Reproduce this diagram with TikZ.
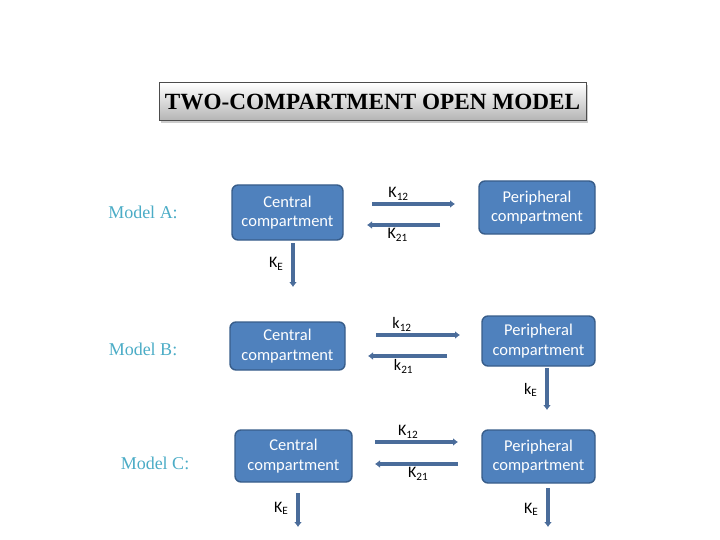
\documentclass[tikz,border=0pt]{standalone}
\usepackage{fontspec}
\setmainfont{Liberation Serif}
\newfontfamily\calibri{Carlito}
\usetikzlibrary{arrows.meta,shadows,positioning}
\definecolor{boxblue}{RGB}{79,129,189}
\definecolor{boxedge}{RGB}{56,93,138}
\definecolor{flowblue}{RGB}{74,108,154}
\definecolor{modelteal}{RGB}{75,172,198}

\begin{document}
\begin{tikzpicture}
    [x=1pt,y=-1pt,
    box/.style={draw=boxedge,line width=1.4pt,fill=boxblue,rounded corners=6pt,
        align=center,text=white,font=\calibri\fontsize{16.5}{19.5}\selectfont,inner sep=0pt},
    flow/.style={draw=flowblue,line width=3.2pt,-{Latex[length=5pt,width=8pt]}},
    klab/.style={font=\calibri\fontsize{16}{18}\selectfont,inner sep=2pt},
    model/.style={text=modelteal,font=\fontsize{18}{20}\selectfont}]

    \useasboundingbox (0,0) rectangle (720,540);

    % title
    \node[draw=black!70,line width=1pt,top color=white,bottom color=black!30,
        drop shadow={shadow xshift=2pt,shadow yshift=-2pt,opacity=0.4},
        minimum width=427pt,minimum height=38pt,font=\bfseries\fontsize{23.2}{25}\selectfont]
        (title) at (372.5,102) {TWO-COMPARTMENT OPEN MODEL};

    % model A
    \node[model] (ma) at (143,212) {Model A:};
    \node[box,minimum width=111pt,minimum height=55pt] (ca) at (287.5,212.5) {Central\\compartment};
    \node[box,minimum width=116pt,minimum height=53pt] (pa) at (537,207.5) {Peripheral\\compartment};
    \coordinate (a12s) at (372,204);
    \coordinate (a12e) at (455,204);
    \coordinate (a21s) at (440,225);
    \coordinate (a21e) at (367,225);
    \coordinate (aEs) at (293,243);
    \coordinate (aEe) at (293,287);
    \draw[flow] (a12s) -- (a12e) node[klab,above,pos=0.32] {K\textsubscript{12}};
    \draw[flow] (a21s) -- (a21e) node[klab,below,pos=0.58] {K\textsubscript{21}};
    \draw[flow] (aEs) -- (aEe) node[klab,left=6pt,pos=0.48] {K\textsubscript{E}};

    % model B
    \node[model] (mb) at (143,349) {Model B:};
    \node[box,minimum width=115pt,minimum height=48pt] (cb) at (287.5,346) {Central\\compartment};
    \node[box,minimum width=113pt,minimum height=50pt] (pb) at (538.5,341) {Peripheral\\compartment};
    \coordinate (b12s) at (376,335);
    \coordinate (b12e) at (460,335);
    \coordinate (b21s) at (447,356);
    \coordinate (b21e) at (368,356);
    \coordinate (bEs) at (547,368);
    \coordinate (bEe) at (547,410);
    \draw[flow] (b12s) -- (b12e) node[klab,above,pos=0.31] {k\textsubscript{12}};
    \draw[flow] (b21s) -- (b21e) node[klab,below,pos=0.55] {k\textsubscript{21}};
    \draw[flow] (bEs) -- (bEe) node[klab,left=6pt,pos=0.52] {k\textsubscript{E}};

    % model C
    \node[model] (mc) at (155,463) {Model C:};
    \node[box,minimum width=117pt,minimum height=52pt] (cc) at (293.5,456) {Central\\compartment};
    \node[box,minimum width=113pt,minimum height=53pt] (pc) at (538.5,456.5) {Peripheral\\compartment};
    \coordinate (c12s) at (375,442);
    \coordinate (c12e) at (458,442);
    \coordinate (c21s) at (458,464);
    \coordinate (c21e) at (375,464);
    \coordinate (cEs) at (298,493);
    \coordinate (cEe) at (298,527);
    \coordinate (dEs) at (548,488);
    \coordinate (dEe) at (548,527);
    \draw[flow] (c12s) -- (c12e) node[klab,above,pos=0.4] {K\textsubscript{12}};
    \draw[flow] (c21s) -- (c21e) node[klab,below,pos=0.48] {K\textsubscript{21}};
    \draw[flow] (cEs) -- (cEe) node[klab,left=6pt,pos=0.45] {K\textsubscript{E}};
    \draw[flow] (dEs) -- (dEe) node[klab,left=6pt,pos=0.55] {K\textsubscript{E}};

\end{tikzpicture}
\end{document}
